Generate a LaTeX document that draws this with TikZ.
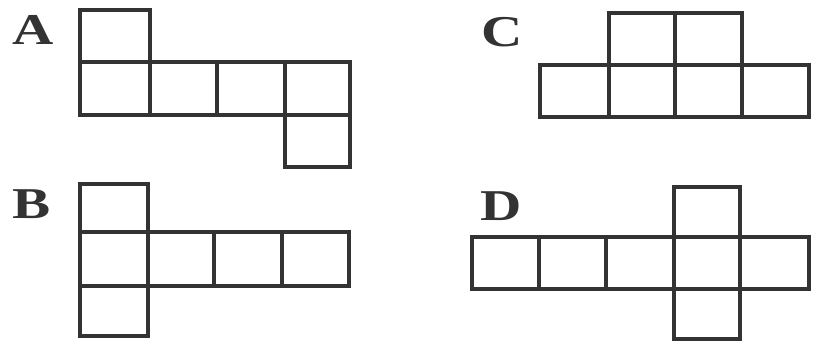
\documentclass[tikz,border=0pt]{standalone}
\usepackage{fontspec}
\setmainfont{Liberation Serif}
\tikzset{
  face/.style={draw=black!80, line width=3.3pt, line join=miter},
  lbl/.style={font=\fontsize{44}{44}\selectfont\bfseries, text=black!80, xscale=1.3, inner sep=0pt, anchor=center}
}
\begin{document}
\begin{tikzpicture}[x=1pt,y=-1pt]
\useasboundingbox (0,0) rectangle (814,344);
% A
\node[lbl] (la) at (33,30) {A};
\draw[face] (80,10) rectangle (150,62);
\draw[face] (80,62) rectangle (150,115);
\draw[face] (150,62) rectangle (217,115);
\draw[face] (217,62) rectangle (285,115);
\draw[face] (285,62) rectangle (350,115);
\draw[face] (285,115) rectangle (350,167);
% B
\node[lbl] (lb) at (32,204) {B};
\draw[face] (80,184) rectangle (148,232);
\draw[face] (80,232) rectangle (148,286);
\draw[face] (148,232) rectangle (214,286);
\draw[face] (214,232) rectangle (282,286);
\draw[face] (282,232) rectangle (349,286);
\draw[face] (80,286) rectangle (148,336);
% C
\node[lbl] (lc) at (502,32) {C};
\draw[face] (609,13) rectangle (675,65);
\draw[face] (675,13) rectangle (742,65);
\draw[face] (540,65) rectangle (609,117);
\draw[face] (609,65) rectangle (675,117);
\draw[face] (675,65) rectangle (742,117);
\draw[face] (742,65) rectangle (809,117);
% D
\node[lbl] (ld) at (501,206) {D};
\draw[face] (674,187) rectangle (740,237);
\draw[face] (472,237) rectangle (539,289);
\draw[face] (539,237) rectangle (606,289);
\draw[face] (606,237) rectangle (674,289);
\draw[face] (674,237) rectangle (740,289);
\draw[face] (740,237) rectangle (809,289);
\draw[face] (674,289) rectangle (740,339);
\end{tikzpicture}
\end{document}
